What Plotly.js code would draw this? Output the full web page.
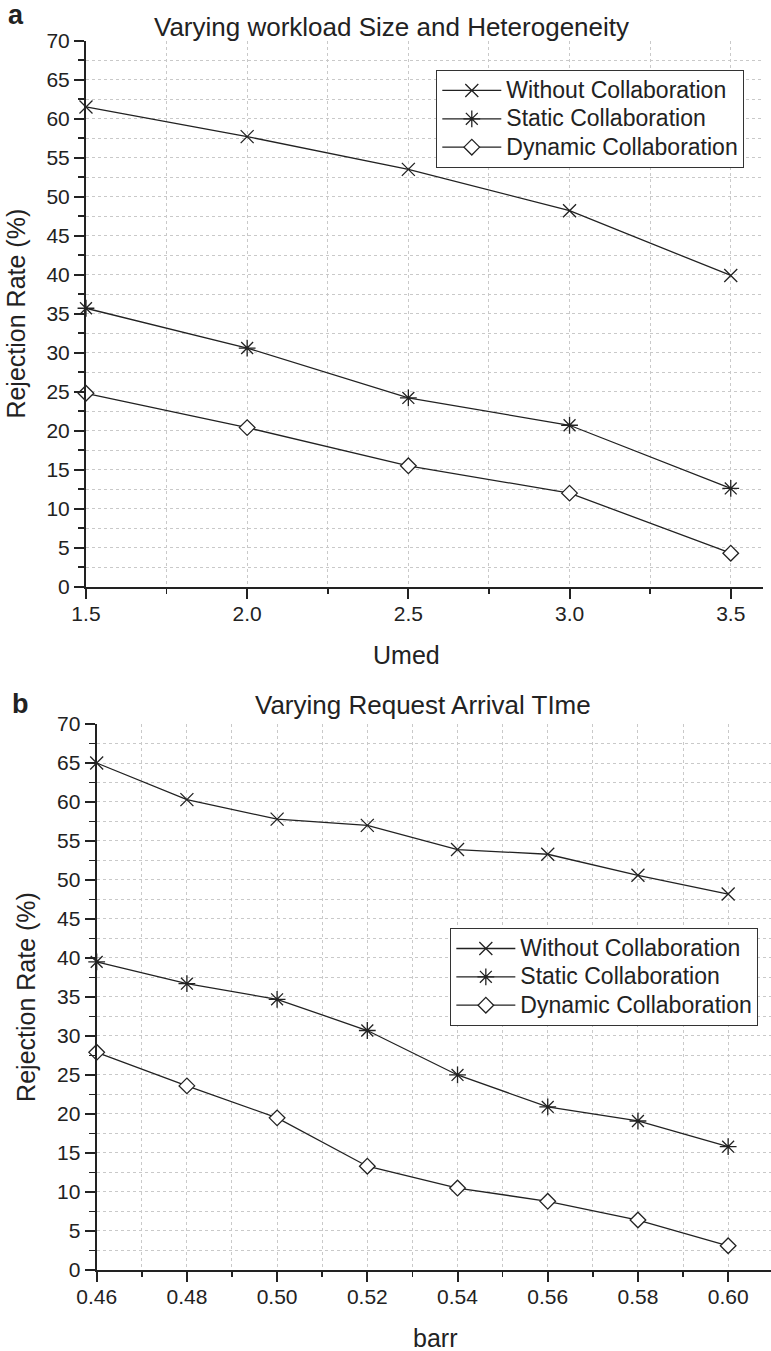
<!DOCTYPE html>
<html>
<head>
<meta charset="utf-8">
<script src="https://cdn.plot.ly/plotly-3.0.1.min.js"></script>
<style>
  html, body { margin: 0; padding: 0; background: #fff; }
  #chart { width: 771px; height: 1351px; }
</style>
</head>
<body>
<div id="chart"></div>
<script>
// Panel (a): rejection rate vs Umed
const umed = [1.5, 2.0, 2.5, 3.0, 3.5];
const aWithout = [61.5, 57.7, 53.5, 48.2, 39.9];
const aStatic  = [35.7, 30.6, 24.2, 20.7, 12.6];
const aDynamic = [24.8, 20.4, 15.5, 12.0, 4.3];

// Panel (b): rejection rate vs barr
const barr = [0.46, 0.48, 0.50, 0.52, 0.54, 0.56, 0.58, 0.60];
const bWithout = [65.0, 60.3, 57.8, 57.0, 53.9, 53.3, 50.6, 48.2];
const bStatic  = [39.5, 36.7, 34.7, 30.7, 25.0, 20.9, 19.1, 15.8];
const bDynamic = [27.9, 23.6, 19.5, 13.3, 10.5, 8.8, 6.4, 3.1];

const seriesNames = ['Without Collaboration', 'Static Collaboration', 'Dynamic Collaboration'];
const titleA = 'Varying workload Size and Heterogeneity';
const titleB = 'Varying Request Arrival TIme';
const yTitle = 'Rejection Rate (%)';

const FONT = 'Liberation Sans, Arial, Helvetica, sans-serif';
const INK = '#222';
const GRID = '#c9c9c9';

const markerStyles = [
  { symbol: 'x-thin-open', size: 13, color: INK, line: { color: INK, width: 1.3 } },
  { symbol: 'asterisk-open', size: 14, color: INK, line: { color: INK, width: 1.3 } },
  { symbol: 'diamond', size: 12, color: '#fff', line: { color: INK, width: 1.3 } }
];

// legend rows are packed tighter than the entry text size
const legendRowFont = 19.5;
const legendTextSize = 23;

function makeTraces(xs, ys, xa, ya, legendId) {
  return ys.map((y, i) => ({
    type: 'scatter',
    mode: 'lines+markers',
    x: xs, y: y,
    xaxis: xa, yaxis: ya,
    name: '<span style="font-size:' + legendTextSize + 'px">' + seriesNames[i] + '</span>',
    legend: legendId,
    line: { color: INK, width: 1.3 },
    marker: markerStyles[i],
    cliponaxis: false
  }));
}

const traces = [
  ...makeTraces(umed, [aWithout, aStatic, aDynamic], 'x', 'y', 'legend'),
  ...makeTraces(barr, [bWithout, bStatic, bDynamic], 'x2', 'y2', 'legend2')
];

function xAxis(domain, range, dtick, minorDtick, fmt, anchor) {
  return {
    domain: domain, range: range, anchor: anchor,
    tick0: range[0], dtick: dtick, tickformat: fmt,
    ticks: 'outside', ticklen: 10, tickwidth: 2, tickcolor: INK,
    ticklabelstandoff: -3,
    showline: true, linewidth: 2, linecolor: INK,
    showgrid: true, gridcolor: GRID, griddash: 'dot', gridwidth: 1,
    zeroline: false,
    tickfont: { family: FONT, size: 21, color: INK },
    minor: { dtick: minorDtick, ticks: 'outside', ticklen: 5, tickwidth: 1.5, tickcolor: INK,
             showgrid: true, gridcolor: GRID, griddash: 'dot', gridwidth: 1 }
  };
}

function yAxis(domain, anchor) {
  return {
    domain: domain, range: [0, 70], anchor: anchor,
    tick0: 0, dtick: 5,
    ticks: 'outside', ticklen: 10, tickwidth: 2, tickcolor: INK,
    ticklabelstandoff: 0,
    showline: true, linewidth: 2, linecolor: INK,
    showgrid: true, gridcolor: GRID, griddash: 'dot', gridwidth: 1,
    zeroline: false,
    tickfont: { family: FONT, size: 21, color: INK },
    title: { text: yTitle, font: { family: FONT, size: 25, color: INK }, standoff: 14 },
    minor: { dtick: 2.5, ticks: 'outside', ticklen: 6, tickwidth: 1.5, tickcolor: INK,
             showgrid: true, gridcolor: GRID, griddash: 'dot', gridwidth: 1 }
  };
}

function legendBox(x, y) {
  return {
    x: x, y: y, xanchor: 'left', yanchor: 'top',
    bgcolor: '#fff', bordercolor: '#333', borderwidth: 1.3,
    font: { family: FONT, size: legendRowFont, color: INK },
    itemwidth: 59, tracegroupgap: 0
  };
}

function label(text, x, y, size, bold) {
  return {
    text: bold ? '<b>' + text + '</b>' : text,
    xref: 'paper', yref: 'paper', x: x, y: y,
    xanchor: 'center', yanchor: 'middle', showarrow: false,
    font: { family: FONT, size: size, color: INK }
  };
}

const layout = {
  width: 771, height: 1351,
  margin: { l: 0, r: 0, t: 0, b: 0 },
  paper_bgcolor: '#fff', plot_bgcolor: '#fff',
  showlegend: true,
  xaxis:  xAxis([0.1115, 0.9896], [1.5, 3.6], 0.5, 0.25, '.1f', 'y'),
  yaxis:  yAxis([0.5657, 0.9699], 'x'),
  xaxis2: xAxis([0.1254, 1.0], [0.46, 0.6095], 0.02, 0.01, '.2f', 'y2'),
  yaxis2: yAxis([0.0600, 0.4641], 'x2'),
  legend:  legendBox(0.5655, 0.9482),
  legend2: legendBox(0.5837, 0.3131),
  annotations: [
    label('a', 0.021, 0.989, 27, true),
    label(titleA, 0.5084, 0.980, 26, false),
    label('Umed', 0.5266, 0.5152, 25, false),
    label('b', 0.026, 0.4789, 27, true),
    label(titleB, 0.5486, 0.4782, 26, false),
    label('barr', 0.5642, 0.0095, 25, false)
  ]
};

Plotly.newPlot('chart', traces, layout, { displayModeBar: false, staticPlot: true });
</script>
</body>
</html>
